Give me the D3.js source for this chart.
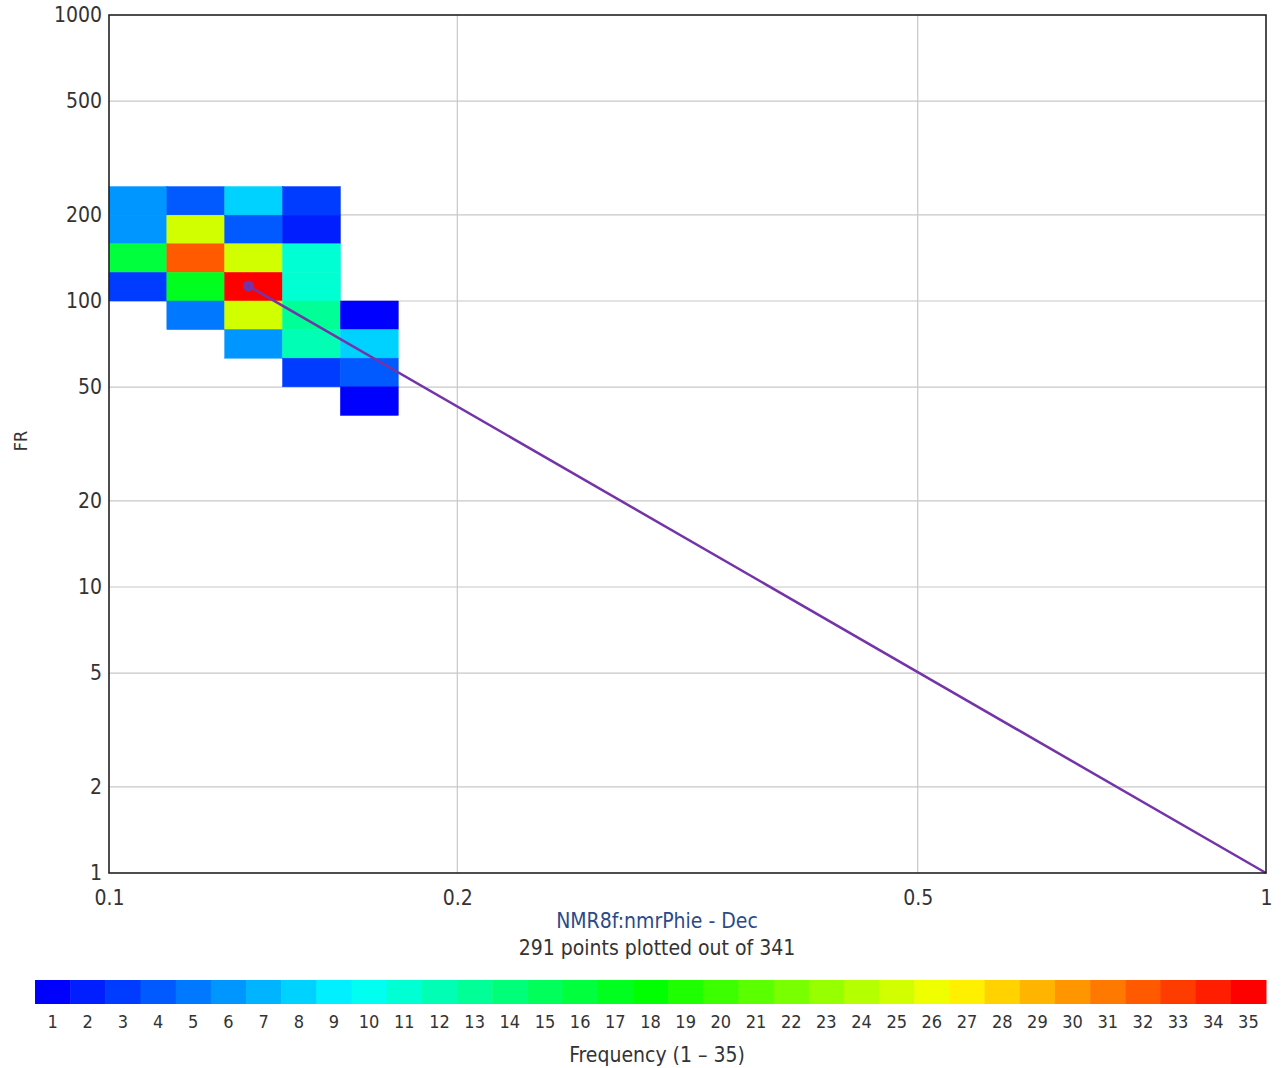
<!DOCTYPE html>
<html>
<head>
<meta charset="utf-8">
<script src="https://cdn.jsdelivr.net/npm/d3@7/dist/d3.min.js"></script>
<style>
  html, body { margin: 0; padding: 0; background: #fff; }
  svg text { font-family: "DejaVu Sans Condensed", "DejaVu Sans", sans-serif; }
</style>
</head>
<body>
<svg id="chart" width="1284" height="1068"></svg>
<script>
// Histogram bins: log10(porosity) lower edge, log10(FR) lower edge, count
const binStepX = 0.05;
const binStepY = 0.1;
const cellLogX = [-1.00, -0.95, -0.90, -0.85,
                  -1.00, -0.95, -0.90, -0.85,
                  -1.00, -0.95, -0.90, -0.85,
                  -1.00, -0.95, -0.90, -0.85,
                  -0.95, -0.90, -0.85, -0.80,
                  -0.90, -0.85, -0.80,
                  -0.85, -0.80,
                  -0.80];
const cellLogY = [2.3, 2.3, 2.3, 2.3,
                  2.2, 2.2, 2.2, 2.2,
                  2.1, 2.1, 2.1, 2.1,
                  2.0, 2.0, 2.0, 2.0,
                  1.9, 1.9, 1.9, 1.9,
                  1.8, 1.8, 1.8,
                  1.7, 1.7,
                  1.6];
const cellCount = [6, 4, 8, 3,
                   6, 25, 4, 2,
                   16, 32, 25, 11,
                   3, 17, 35, 11,
                   5, 25, 13, 1,
                   6, 12, 8,
                   3, 4,
                   1];

// Trend line (phi, FR)
const lineX = [0.132, 1];
const lineY = [112.8, 1];

const xTicks = [0.1, 0.2, 0.5, 1];
const yTicks = [1, 2, 5, 10, 20, 50, 100, 200, 500, 1000];
const freqLevels = d3.range(1, 36);

const xTitle = "NMR8f:nmrPhie - Dec";
const subTitle = "291 points plotted out of 341";
const yTitle = "FR";
const legendTitle = "Frequency (1 \u2013 35)";

const svg = d3.select("#chart");
const m = { left: 109, right: 1266, top: 15, bottom: 873 };

const x = d3.scaleLog().domain([0.1, 1]).range([m.left, m.right]);
const y = d3.scaleLog().domain([1, 1000]).range([m.bottom, m.top]);

const color = d3.scaleLinear()
  .domain([1, 9.5, 18, 26.5, 35])
  .range(["#0000ff", "#00ffff", "#00ff00", "#ffff00", "#ff0000"])
  .interpolate(d3.interpolateRgb);

// grid
const grid = svg.append("g");
grid.selectAll(".gx").data(xTicks.slice(1, -1)).join("line")
  .attr("x1", d => x(d)).attr("x2", d => x(d))
  .attr("y1", m.top).attr("y2", m.bottom)
  .attr("stroke", "#c8c8c8").attr("stroke-width", 1.2);
grid.selectAll(".gy").data(yTicks.slice(1, -1)).join("line")
  .attr("x1", m.left).attr("x2", m.right)
  .attr("y1", d => y(d)).attr("y2", d => y(d))
  .attr("stroke", "#c8c8c8").attr("stroke-width", 1.2);

// heatmap cells
const cells = cellCount.map((c, i) => ({ lx: cellLogX[i], ly: cellLogY[i], c }));
svg.append("g").selectAll("rect").data(cells).join("rect")
  .attr("x", d => x(Math.pow(10, d.lx)))
  .attr("width", d => x(Math.pow(10, d.lx + binStepX)) - x(Math.pow(10, d.lx)))
  .attr("y", d => y(Math.pow(10, d.ly + binStepY)))
  .attr("height", d => y(Math.pow(10, d.ly)) - y(Math.pow(10, d.ly + binStepY)))
  .attr("fill", d => color(d.c))
  .attr("stroke", d => color(d.c)).attr("stroke-width", 0.5);

// trend line and anchor dot
const lineData = lineX.map((v, i) => [v, lineY[i]]);
svg.append("path").datum(lineData)
  .attr("d", d3.line().x(d => x(d[0])).y(d => y(d[1])))
  .attr("fill", "none").attr("stroke", "#7434a8").attr("stroke-width", 2.5);
svg.append("circle")
  .attr("cx", x(lineX[0])).attr("cy", y(lineY[0])).attr("r", 5.5)
  .attr("fill", "#7434a8");

// frame
svg.append("rect")
  .attr("x", m.left).attr("y", m.top)
  .attr("width", m.right - m.left).attr("height", m.bottom - m.top)
  .attr("fill", "none").attr("stroke", "#222").attr("stroke-width", 1.6);

// axes
const xAxis = d3.axisBottom(x).tickValues(xTicks).tickFormat(d3.format("")).tickSize(0).tickPadding(17);
const gx = svg.append("g").attr("transform", `translate(0,${m.bottom})`).call(xAxis);
gx.select(".domain").remove();
gx.selectAll("text").attr("font-size", 21).attr("fill", "#333");

const yAxis = d3.axisLeft(y).tickValues(yTicks).tickFormat(d3.format("")).tickSize(0).tickPadding(7);
const gy = svg.append("g").attr("transform", `translate(${m.left},0)`).call(yAxis);
gy.select(".domain").remove();
gy.selectAll("text").attr("font-size", 21).attr("fill", "#333");

// titles
svg.append("text").attr("x", 657).attr("y", 928).attr("text-anchor", "middle")
  .attr("font-size", 21).attr("fill", "#2c4a86").text(xTitle);
svg.append("text").attr("x", 657).attr("y", 955).attr("text-anchor", "middle")
  .attr("font-size", 21).attr("fill", "#333").text(subTitle);
svg.append("text").attr("transform", "translate(27,441) rotate(-90)")
  .attr("text-anchor", "middle").attr("font-size", 18).attr("fill", "#333").text(yTitle);

// colour legend
const lx = d3.scaleBand().domain(freqLevels).range([35, 1266]);
const legend = svg.append("g");
legend.selectAll("rect").data(freqLevels).join("rect")
  .attr("x", d => lx(d)).attr("y", 980)
  .attr("width", lx.bandwidth() + 0.5).attr("height", 24)
  .attr("fill", d => color(d));
legend.selectAll("text").data(freqLevels).join("text")
  .attr("x", d => lx(d) + lx.bandwidth() / 2).attr("y", 1028)
  .attr("text-anchor", "middle").attr("font-size", 18).attr("fill", "#333")
  .text(d => d);
svg.append("text").attr("x", 657).attr("y", 1062).attr("text-anchor", "middle")
  .attr("font-size", 21).attr("fill", "#333").text(legendTitle);
</script>
</body>
</html>
